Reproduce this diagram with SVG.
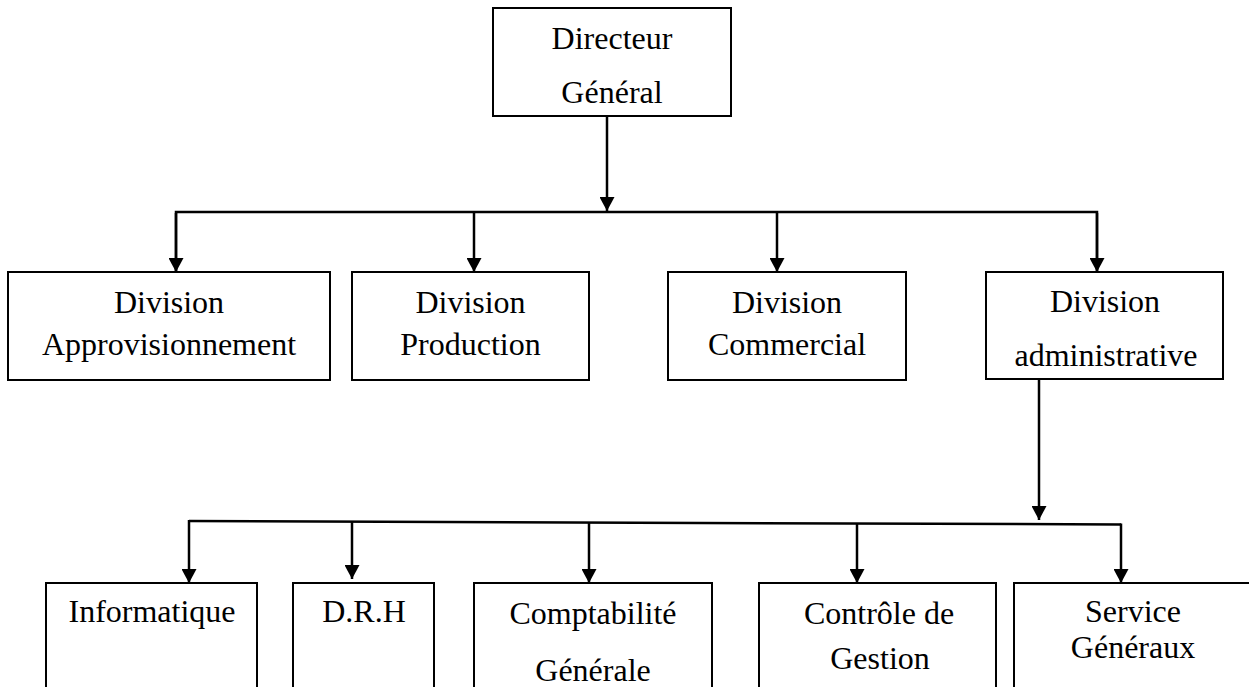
<svg xmlns="http://www.w3.org/2000/svg" width="1249" height="687" viewBox="0 0 1249 687">
<defs>
<style>
.box{fill:#fff;stroke:#000;stroke-width:2}
.t{font-family:"Liberation Serif","Times New Roman",serif;font-size:32px;fill:#000;text-anchor:middle}
.c{fill:none;stroke:#000;stroke-width:2.5}
.ca{fill:none;stroke:#000;stroke-width:2.5;marker-end:url(#ah)}
</style>
<marker id="ah" viewBox="0 0 14 15" refX="14" refY="7.5" markerWidth="14" markerHeight="15" markerUnits="userSpaceOnUse" orient="auto">
<path d="M0,0 L14,7.5 L0,15 Z" fill="#000"/>
</marker>
</defs>
<rect width="1249" height="687" fill="#fff"/>
<g id="connectors">
<line class="ca" x1="607" y1="116" x2="607" y2="211"/>
<polyline class="c" points="176,271 176,212 1097,212 1097,271"/>
<line class="ca" x1="176" y1="213" x2="176" y2="272"/>
<line class="ca" x1="474" y1="212" x2="474" y2="272"/>
<line class="ca" x1="777" y1="212" x2="777" y2="272"/>
<line class="ca" x1="1097" y1="213" x2="1097" y2="272"/>
<line class="ca" x1="1039" y1="379" x2="1039" y2="520"/>
<line class="c" x1="189" y1="521" x2="1121" y2="524.5" stroke-width="2"/>
<line class="ca" x1="189" y1="520" x2="189" y2="583"/>
<line class="ca" x1="352" y1="521.6" x2="352" y2="579"/>
<line class="ca" x1="589" y1="522.5" x2="589" y2="583"/>
<line class="ca" x1="857" y1="523.5" x2="857" y2="583"/>
<line class="ca" x1="1121" y1="523.5" x2="1121" y2="583"/>
</g>
<g id="directeur">
<rect class="box" x="493" y="8" width="238" height="108"/>
<text class="t" x="612" y="49">Directeur</text>
<text class="t" x="612" y="103">Général</text>
</g>
<g id="approvisionnement">
<rect class="box" x="8" y="272" width="322" height="108"/>
<text class="t" x="169" y="313">Division</text>
<text class="t" x="169" y="355">Approvisionnement</text>
</g>
<g id="production">
<rect class="box" x="352" y="272" width="237" height="108"/>
<text class="t" x="470.5" y="313">Division</text>
<text class="t" x="470.5" y="355">Production</text>
</g>
<g id="commercial">
<rect class="box" x="668" y="272" width="238" height="108"/>
<text class="t" x="787" y="313">Division</text>
<text class="t" x="787" y="355">Commercial</text>
</g>
<g id="administrative">
<rect class="box" x="986" y="272" width="237" height="107"/>
<text class="t" x="1105" y="312">Division</text>
<text class="t" x="1106" y="366">administrative</text>
</g>
<g id="informatique">
<rect class="box" x="46" y="583" width="211" height="120"/>
<text class="t" x="152" y="622">Informatique</text>
</g>
<g id="drh">
<rect class="box" x="293" y="583" width="141" height="120"/>
<text class="t" x="364" y="622">D.R.H</text>
</g>
<g id="comptabilite">
<rect class="box" x="474" y="583" width="238" height="120"/>
<text class="t" x="593" y="624">Comptabilité</text>
<text class="t" x="593" y="681">Générale</text>
</g>
<g id="controle">
<rect class="box" x="759" y="583" width="237" height="120"/>
<text class="t" x="879" y="624">Contrôle de</text>
<text class="t" x="880" y="669">Gestion</text>
</g>
<g id="service">
<rect class="box" x="1014" y="583" width="240" height="120"/>
<text class="t" x="1133" y="622">Service</text>
<text class="t" x="1133" y="658">Généraux</text>
</g>
</svg>
